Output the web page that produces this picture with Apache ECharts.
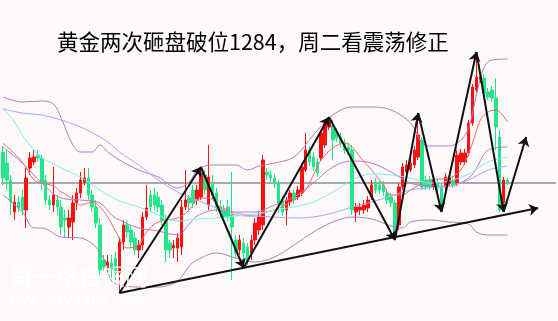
<!DOCTYPE html>
<html><head><meta charset="utf-8">
<script src="https://cdn.jsdelivr.net/npm/echarts@6/dist/echarts.min.js"></script>
<style>html,body{margin:0;padding:0;background:#fdf9f9}#c{width:558px;height:321px}</style>
</head><body><div id="c"></div>
<script>
// candles: [open, close, low, high]
const candles = [
[1284.8,1282.2,1281.5,1285.4],[1283.7,1282.0,1281.0,1285.0],[1282.0,1279.8,1278.5,1282.5],[1278.8,1279.8,1278.0,1280.5],
[1279.8,1279.2,1278.8,1280.4],[1280.3,1279.0,1278.5,1281.0],[1279.0,1282.2,1277.2,1283.2],[1283.2,1284.2,1282.5,1284.8],
[1283.8,1284.3,1283.5,1285.0],[1284.5,1284.2,1283.8,1285.0],[1284.2,1281.8,1281.0,1284.5],[1282.0,1280.0,1279.5,1282.5],
[1280.0,1279.5,1279.0,1280.5],[1279.5,1280.5,1278.8,1283.3],[1280.0,1279.3,1278.5,1280.5],[1279.3,1277.3,1276.5,1280.0],
[1278.2,1278.0,1276.2,1279.0],[1277.3,1278.2,1276.2,1279.0],[1277.8,1279.7,1276.0,1280.5],[1279.7,1280.7,1279.0,1281.2],
[1280.7,1282.0,1280.2,1282.8],[1281.8,1282.2,1281.5,1283.2],[1282.2,1280.5,1280.0,1283.2],[1280.5,1279.3,1278.8,1281.0],
[1279.3,1277.7,1277.2,1280.0],[1277.5,1273.0,1272.5,1278.2],[1274.0,1273.3,1272.8,1274.5],[1273.2,1273.8,1272.5,1274.5],
[1273.7,1273.0,1272.2,1274.5],[1274.2,1272.7,1272.0,1274.8],[1272.7,1275.8,1270.7,1276.3],[1275.8,1277.5,1275.0,1278.0],
[1277.5,1276.8,1276.2,1278.0],[1277.0,1275.8,1275.2,1277.5],[1276.2,1275.0,1274.5,1276.8],[1275.0,1275.5,1274.2,1276.0],
[1275.5,1278.3,1275.0,1278.8],[1278.3,1279.2,1278.0,1281.5],[1280.5,1279.3,1278.8,1281.0],[1280.5,1279.5,1279.0,1281.2],
[1280.3,1279.3,1278.8,1280.8],[1279.5,1278.0,1277.5,1280.0],[1278.0,1275.0,1273.8,1278.5],[1275.7,1275.0,1274.2,1276.0],
[1275.2,1275.5,1274.2,1276.0],[1275.2,1276.2,1273.8,1276.7],[1275.3,1279.3,1274.5,1280.0],[1279.3,1280.0,1279.0,1283.0],
[1280.2,1279.7,1278.8,1280.5],[1281.0,1279.7,1279.2,1281.5],[1280.0,1281.0,1279.5,1281.5],[1280.3,1282.7,1280.0,1283.3],
[1282.5,1281.0,1280.5,1283.0],[1279.5,1282.3,1279.0,1285.5],[1281.7,1280.5,1280.0,1282.5],[1280.7,1279.3,1278.8,1281.2],
[1279.3,1278.8,1278.2,1280.0],[1279.0,1278.3,1277.8,1279.5],[1279.3,1278.3,1277.8,1280.0],[1278.5,1277.3,1272.0,1282.8],
[1276.0,1274.7,1274.2,1276.5],[1275.0,1276.0,1274.5,1276.5],[1275.7,1274.7,1273.2,1276.2],[1275.3,1274.0,1273.5,1275.7],
[1274.7,1276.0,1274.0,1276.5],[1276.0,1277.7,1275.5,1278.2],[1277.0,1278.3,1276.5,1278.8],[1277.5,1284.0,1277.0,1284.5],
[1282.8,1282.5,1282.0,1283.2],[1282.5,1282.2,1281.8,1283.0],[1282.2,1281.7,1281.2,1282.6],[1281.7,1279.7,1278.7,1282.0],
[1280.0,1278.8,1278.4,1280.4],[1279.0,1280.0,1277.5,1280.3],[1279.8,1280.7,1279.4,1281.0],[1280.7,1280.0,1279.6,1281.0],
[1280.3,1281.0,1280.0,1281.4],[1280.7,1283.3,1280.4,1283.7],[1283.0,1285.0,1282.8,1286.7],[1285.0,1283.8,1283.4,1285.4],
[1284.3,1283.3,1282.9,1284.8],[1283.8,1282.7,1282.3,1284.2],[1284.2,1286.7,1283.9,1287.0],[1285.5,1287.7,1285.2,1288.0],
[1287.3,1288.2,1287.0,1288.3],[1287.5,1286.0,1284.0,1288.0],[1286.8,1286.2,1285.8,1287.2],[1286.3,1285.7,1285.3,1286.7],
[1285.7,1285.0,1284.6,1286.1],[1285.3,1285.0,1284.6,1285.7],[1285.0,1279.0,1278.5,1285.5],[1278.8,1279.3,1277.8,1279.7],
[1279.0,1279.3,1278.5,1279.7],[1279.0,1279.5,1278.6,1280.0],[1279.2,1280.0,1278.8,1280.4],[1280.3,1281.5,1280.0,1282.0],
[1281.8,1281.0,1280.6,1282.2],[1281.5,1281.0,1280.6,1281.9],[1281.5,1280.8,1280.4,1281.9],[1280.7,1280.0,1279.6,1281.1],
[1280.3,1279.7,1279.3,1280.7],[1279.7,1276.3,1276.0,1280.0],[1277.5,1281.3,1277.0,1281.7],[1281.3,1283.3,1281.0,1283.7],
[1282.8,1283.5,1282.5,1284.0],[1283.0,1283.7,1282.8,1284.2],[1283.5,1285.0,1283.2,1285.4],[1284.3,1286.5,1284.0,1288.7],
[1286.0,1281.3,1281.0,1286.3],[1282.0,1281.3,1281.0,1282.4],[1282.0,1281.3,1281.0,1282.4],[1281.3,1282.0,1281.0,1282.4],
[1281.7,1281.2,1280.8,1282.1],[1281.3,1279.0,1278.8,1281.6],[1281.3,1282.3,1281.0,1282.7],[1281.7,1282.2,1281.4,1282.6],
[1282.0,1281.5,1281.2,1282.4],[1281.7,1284.5,1281.4,1285.0],[1283.8,1284.7,1283.5,1285.1],[1283.8,1284.7,1283.5,1285.1],
[1284.7,1287.7,1284.4,1288.0],[1287.7,1291.3,1287.4,1291.6],[1291.0,1292.3,1290.8,1294.8],[1292.0,1292.3,1291.7,1292.6],
[1292.2,1290.7,1290.4,1292.6],[1290.8,1290.3,1290.0,1291.2],[1291.0,1290.2,1289.8,1291.4],[1290.2,1287.3,1285.0,1292.2],
[1286.3,1279.0,1278.8,1287.0],[1279.7,1282.0,1278.8,1282.3],[1282.0,1281.7,1281.5,1282.2]
];
const totalSlots = 143;
const categories = Array.from({length: totalSlots}, (_, i) => String(i + 1));

// Bollinger upper / middle / lower
const upperIdx = [0,5,10,13,15,18,20,23,25,27,30,35,40,45,48,50,52,55,60,63,66,70,75,80,85,90,95,100,105,108,110,115,118,120,122,124,126,130];
const upperVal = [1290.3,1289.8,1289.9,1289.6,1288.2,1285.5,1284.8,1284.8,1285.5,1284.8,1284.0,1283.0,1282.3,1281.2,1281.8,1283.0,1283.4,1283.5,1283.5,1283.0,1283.4,1283.7,1284.3,1286.5,1288.5,1289.3,1289.3,1289.0,1287.7,1285.7,1285.4,1285.4,1286.0,1287.2,1290.5,1293.3,1294.0,1294.1];
const lowerIdx = [0,5,8,10,15,20,25,28,30,35,40,45,48,50,55,60,65,70,75,80,85,90,95,100,103,105,110,115,120,122,125,130];
const lowerVal = [1280.5,1278.8,1277.2,1277.2,1276.3,1276.2,1274.8,1271.9,1271.5,1271.3,1271.3,1271.9,1273.4,1274.0,1274.7,1274.2,1273.8,1274.3,1275.5,1276.8,1277.8,1278.3,1278.1,1277.4,1277.2,1277.8,1278.0,1277.8,1277.6,1276.8,1276.5,1276.5];
const midIdx = [0,5,10,15,20,25,28,30,35,40,45,48,50,55,60,65,70,75,80,85,90,95,100,105,110,115,120,122,125,130];
const midVal = [1285.3,1283.7,1281.7,1280.2,1280.0,1279.7,1278.5,1278.0,1277.2,1276.9,1276.5,1277.6,1278.4,1279.0,1278.8,1278.8,1279.5,1280.3,1281.7,1283.3,1283.9,1283.7,1282.8,1281.7,1281.4,1281.4,1282.2,1283.2,1285.0,1285.3];
// moving averages
const redIdx = [0,5,8,10,13,15,17,19,20,23,25,27,30,32,35,37,40,45,48,50,53,56,58,60,65,68,70,75,78,80,82,85,88,90,92,95,98,100,103,105,110,115,118,121,123,125,127,130];
const redVal = [1285.7,1283.8,1282.0,1281.7,1281.4,1280.8,1280.4,1279.7,1279.5,1279.8,1279.3,1278.3,1276.2,1275.2,1275.5,1276.8,1277.8,1278.2,1279.0,1280.0,1280.2,1279.3,1279.0,1278.5,1278.4,1278.8,1279.0,1280.0,1281.0,1282.5,1284.0,1285.2,1285.7,1285.3,1284.3,1283.0,1281.5,1280.5,1280.5,1281.0,1282.0,1282.2,1283.0,1285.7,1288.0,1288.8,1289.0,1287.8];
const cyanIdx = [0,3,5,8,10,13,15,20,25,28,30,35,40,45,50,55,60,65,70,75,80,85,90,95,100,105,110,115,120,125,130];
const cyanVal = [1289.2,1287.8,1286.5,1285.0,1284.2,1283.6,1283.2,1282.3,1281.0,1280.3,1279.9,1279.3,1278.5,1277.9,1278.1,1278.2,1278.4,1278.6,1279.0,1279.3,1279.8,1280.8,1282.0,1282.6,1282.5,1282.2,1281.7,1281.9,1282.6,1283.8,1284.3];
const blueIdx = [0,5,10,15,20,25,28,30,35,40,45,50,55,60,65,70,75,80,85,90,95,100,105,110,115,120,125,130];
const blueVal = [1289.1,1288.7,1288.5,1288.0,1287.3,1286.3,1285.5,1284.8,1283.5,1282.0,1280.8,1280.0,1279.2,1278.7,1278.4,1278.3,1278.2,1278.3,1278.7,1279.3,1279.8,1280.4,1281.0,1281.2,1281.4,1282.0,1283.0,1283.4];

const refLevel = 1281.7;
// zigzag swing points: candle index and which extreme
const swingIdx = [30, 51, 62, 84, 101, 107, 113, 122, 129];
const swingKind = ['L','H','L','H','L','H','L','H','L'];
const projTarget = [134.8, 1286.3];
const baseTarget = [137.9, 1279.2];

const titleText = '黄金两次砸盘破位1284，周二看震荡修正';
const wmCn = '第一纸白银网';
const wmUrl = 'www.diyizby.com';

const zip = (a, b) => a.map((v, i) => [v, b[i]]);
const swingPts = swingIdx.map((ix, k) => [ix, swingKind[k] === 'L' ? candles[ix][2] : candles[ix][3]]);
const arrows = [];
for (let k = 0; k < swingPts.length - 1; k++) arrows.push({coords: [swingPts[k], swingPts[k + 1]]});
arrows.push({coords: [swingPts[swingPts.length - 1], projTarget]});
arrows.push({coords: [swingPts[0], baseTarget]});

function lineSeries(idx, val, color) {
  return {type: 'line', xAxisIndex: 1, yAxisIndex: 0, data: zip(idx, val), showSymbol: false, smooth: 0.35,
    lineStyle: {color: color, width: 1}, z: 4, silent: true};
}

const chart = echarts.init(document.getElementById('c'), null, {renderer: 'canvas'});
chart.setOption({
  animation: false,
  backgroundColor: '#fdf9f9',
  grid: {left: 1, right: 2, top: 0, bottom: 0, containLabel: false},
  xAxis: [
    {type: 'category', data: categories, boundaryGap: true, show: false},
    {type: 'value', min: -0.5, max: totalSlots - 0.5, show: false}
  ],
  yAxis: [{type: 'value', min: 1267.9, max: 1300, show: false, splitLine: {show: false}}],
  series: [
    {type: 'line', xAxisIndex: 1, data: [[-0.5, refLevel], [totalSlots - 0.5, refLevel]], showSymbol: false,
      lineStyle: {color: '#a9a9a9', width: 2}, z: 1, silent: true},
    {type: 'candlestick', xAxisIndex: 0, yAxisIndex: 0, data: candles, barWidth: 3, z: 3,
      itemStyle: {color: '#ff1010', color0: '#22e68a', borderColor: '#ff1010', borderColor0: '#22e68a', borderWidth: 1}},
    lineSeries(upperIdx, upperVal, '#b77ac6'),
    lineSeries(midIdx, midVal, '#b77ac6'),
    lineSeries(lowerIdx, lowerVal, '#b77ac6'),
    lineSeries(redIdx, redVal, '#f26a6a'),
    lineSeries(cyanIdx, cyanVal, '#7ef0f0'),
    lineSeries(blueIdx, blueVal, '#a8a8f2'),
    {type: 'lines', coordinateSystem: 'cartesian2d', xAxisIndex: 1, yAxisIndex: 0, data: arrows, z: 10,
      symbol: ['none', 'arrow'], symbolSize: 9, silent: true,
      lineStyle: {color: '#111', width: 2, opacity: 1, curveness: 0}}
  ],
  graphic: [
    {type: 'text', left: 57, top: 31, z: 20, style: {text: titleText, fill: '#000', font: '21.5px "Noto Sans CJK SC", sans-serif'}},
    {type: 'text', left: 10, top: 265, z: 20, style: {text: wmCn, fill: 'rgba(255,255,255,0.85)', font: '23px "Noto Sans CJK SC", serif'}},
    {type: 'text', left: 10, top: 293, z: 20, style: {text: wmUrl, fill: 'rgba(255,255,255,0.85)', font: '15px "Liberation Mono", monospace'}}
  ]
});
</script></body></html>
